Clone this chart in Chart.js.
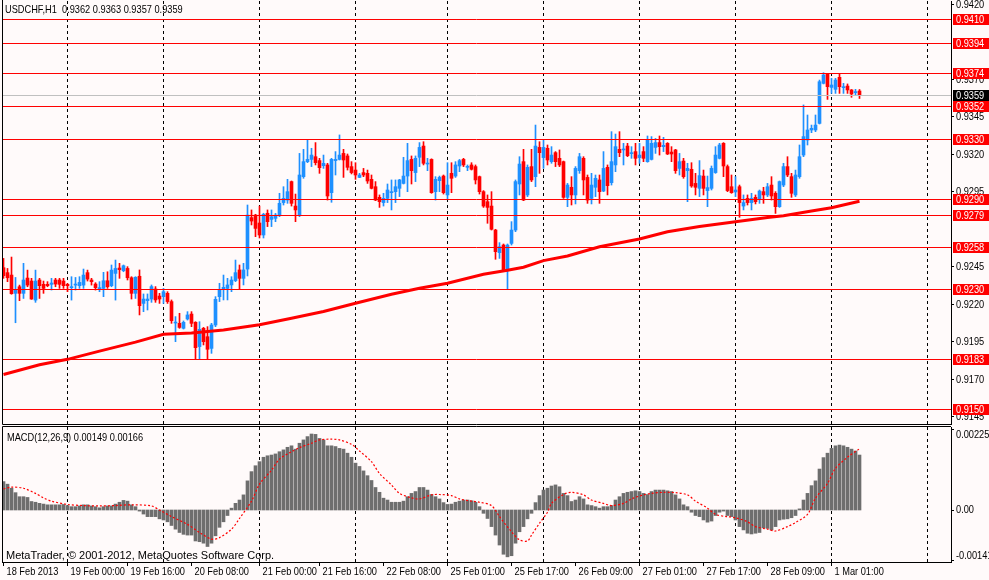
<!DOCTYPE html>
<html>
<head>
<meta charset="utf-8">
<title>USDCHF,H1</title>
<script src="https://cdn.jsdelivr.net/npm/chart.js@4.4.1/dist/chart.umd.min.js"></script>
<style>
  html, body { margin: 0; padding: 0; background: #FFFAFA; }
  #wrap { position: relative; width: 989px; height: 580px; background: #FFFAFA; overflow: hidden; }
  #priceChart { position: absolute; left: 0; top: 0; }
  #macdChart { position: absolute; left: 0; top: 425px; }
</style>
</head>
<body>
<div id="wrap">
  <canvas id="priceChart" width="989" height="425"></canvas>
  <canvas id="macdChart" width="989" height="155"></canvas>
</div>
<script>
// USDCHF H1 candles, bar 0 = 18 Feb 2013 08:00
const opens = [
  0.92442, 0.92409, 0.92393, 0.92271, 0.92315, 0.92271, 0.92373, 0.92353, 0.92226, 0.92360,
  0.92331, 0.92331, 0.92331, 0.92360, 0.92360, 0.92353, 0.92331, 0.92309, 0.92326, 0.92322,
  0.92326, 0.92409, 0.92360, 0.92333, 0.92300, 0.92304, 0.92355, 0.92322, 0.92404, 0.92440,
  0.92422, 0.92437, 0.92375, 0.92271, 0.92385, 0.92204, 0.92222, 0.92233, 0.92300, 0.92253,
  0.92249, 0.92271, 0.92216, 0.92073, 0.92071, 0.92038, 0.92100, 0.92133, 0.92078, 0.91916,
  0.92038, 0.91982, 0.91904, 0.92060, 0.92249, 0.92300, 0.92304, 0.92327, 0.92356, 0.92427,
  0.92371, 0.92433, 0.92776, 0.92793, 0.92740, 0.92660, 0.92805, 0.92764, 0.92771, 0.92793,
  0.92876, 0.92893, 0.93016, 0.92853, 0.92793, 0.93049, 0.93149, 0.93164, 0.93182, 0.93156,
  0.93122, 0.93127, 0.92942, 0.93156, 0.93164, 0.93204, 0.93187, 0.93116, 0.93093, 0.93044,
  0.93076, 0.93071, 0.93031, 0.92982, 0.92911, 0.92876, 0.92904, 0.92942, 0.92949, 0.92971,
  0.93004, 0.93053, 0.93164, 0.93076, 0.93178, 0.93253, 0.93133, 0.93164, 0.92949, 0.93022,
  0.93053, 0.92927, 0.93071, 0.93053, 0.93120, 0.93164, 0.93111, 0.93127, 0.93116, 0.93049,
  0.92949, 0.92882, 0.92853, 0.92693, 0.92542, 0.92593, 0.92431, 0.92604, 0.92693, 0.93000,
  0.93149, 0.92927, 0.93116, 0.93049, 0.93244, 0.93176, 0.93238, 0.93149, 0.93209, 0.93171,
  0.93149, 0.92911, 0.92978, 0.92927, 0.93089, 0.93171, 0.93044, 0.92904, 0.92978, 0.93027,
  0.92953, 0.93111, 0.93009, 0.93127, 0.93231, 0.93227, 0.93253, 0.93202, 0.93216, 0.93176,
  0.93216, 0.93149, 0.93164, 0.93244, 0.93276, 0.93249, 0.93271, 0.93213, 0.93227, 0.93104,
  0.93153, 0.93089, 0.93098, 0.93004, 0.92971, 0.93053, 0.92956, 0.92971, 0.93076, 0.93171,
  0.93271, 0.93116, 0.92982, 0.92947, 0.92982, 0.92853, 0.92904, 0.92876, 0.92911, 0.92898,
  0.92949, 0.92927, 0.92993, 0.92938, 0.92849, 0.92993, 0.93116, 0.93049, 0.92927, 0.93049,
  0.93193, 0.93293, 0.93360, 0.93360, 0.93404, 0.93671, 0.93733, 0.93644, 0.93631, 0.93711,
  0.93642, 0.93653, 0.93627, 0.93609, 0.93620
];
const highs = [
  0.92504, 0.92437, 0.92513, 0.92377, 0.92326, 0.92471, 0.92426, 0.92371, 0.92426, 0.92371,
  0.92353, 0.92349, 0.92371, 0.92371, 0.92371, 0.92371, 0.92337, 0.92382, 0.92377, 0.92382,
  0.92433, 0.92426, 0.92371, 0.92342, 0.92349, 0.92411, 0.92415, 0.92460, 0.92493, 0.92471,
  0.92460, 0.92449, 0.92382, 0.92382, 0.92427, 0.92267, 0.92267, 0.92327, 0.92316, 0.92271,
  0.92304, 0.92282, 0.92227, 0.92116, 0.92138, 0.92087, 0.92149, 0.92149, 0.92082, 0.92082,
  0.92044, 0.92049, 0.92071, 0.92249, 0.92338, 0.92393, 0.92371, 0.92382, 0.92493, 0.92460,
  0.92471, 0.92860, 0.92827, 0.92798, 0.92853, 0.92805, 0.92827, 0.92827, 0.92804, 0.92938,
  0.92982, 0.93031, 0.93020, 0.92933, 0.93204, 0.93231, 0.93293, 0.93238, 0.93276, 0.93171,
  0.93193, 0.93138, 0.93171, 0.93216, 0.93327, 0.93231, 0.93200, 0.93149, 0.93142, 0.93071,
  0.93104, 0.93093, 0.93060, 0.93016, 0.92927, 0.92938, 0.93000, 0.93027, 0.93027, 0.93031,
  0.93178, 0.93271, 0.93187, 0.93187, 0.93276, 0.93282, 0.93171, 0.93168, 0.93049, 0.93053,
  0.93060, 0.93142, 0.93142, 0.93149, 0.93164, 0.93171, 0.93127, 0.93142, 0.93127, 0.93053,
  0.92956, 0.92927, 0.92949, 0.92698, 0.92609, 0.92600, 0.92600, 0.92749, 0.93027, 0.93182,
  0.93231, 0.93127, 0.93231, 0.93393, 0.93282, 0.93293, 0.93260, 0.93249, 0.93216, 0.93227,
  0.93153, 0.93004, 0.93049, 0.93116, 0.93204, 0.93182, 0.93060, 0.93071, 0.93060, 0.93060,
  0.93216, 0.93127, 0.93349, 0.93333, 0.93349, 0.93271, 0.93271, 0.93249, 0.93271, 0.93271,
  0.93249, 0.93320, 0.93316, 0.93304, 0.93320, 0.93311, 0.93276, 0.93249, 0.93231, 0.93204,
  0.93171, 0.93138, 0.93142, 0.93071, 0.93156, 0.93093, 0.93053, 0.93120, 0.93249, 0.93271,
  0.93276, 0.93127, 0.93060, 0.93049, 0.92993, 0.92927, 0.92927, 0.92938, 0.92927, 0.92960,
  0.92978, 0.93004, 0.93049, 0.92949, 0.93020, 0.93138, 0.93182, 0.93071, 0.93093, 0.93260,
  0.93527, 0.93460, 0.93393, 0.93460, 0.93693, 0.93742, 0.93738, 0.93704, 0.93704, 0.93733,
  0.93671, 0.93667, 0.93630, 0.93631, 0.93630
];
const lows = [
  0.92371, 0.92349, 0.92265, 0.92075, 0.92222, 0.92237, 0.92315, 0.92231, 0.92211, 0.92237,
  0.92271, 0.92315, 0.92293, 0.92315, 0.92304, 0.92304, 0.92282, 0.92226, 0.92293, 0.92304,
  0.92304, 0.92353, 0.92326, 0.92293, 0.92282, 0.92249, 0.92304, 0.92315, 0.92226, 0.92371,
  0.92415, 0.92360, 0.92233, 0.92237, 0.92127, 0.92149, 0.92160, 0.92211, 0.92211, 0.92204,
  0.92204, 0.92204, 0.92071, 0.91949, 0.92038, 0.92033, 0.92093, 0.92049, 0.91831, 0.91831,
  0.91927, 0.91831, 0.91871, 0.92049, 0.92216, 0.92227, 0.92227, 0.92282, 0.92349, 0.92298,
  0.92327, 0.92387, 0.92727, 0.92649, 0.92640, 0.92640, 0.92716, 0.92716, 0.92749, 0.92782,
  0.92860, 0.92871, 0.92853, 0.92749, 0.92782, 0.93038, 0.93142, 0.93116, 0.93127, 0.93071,
  0.93104, 0.92893, 0.92878, 0.93060, 0.93160, 0.93044, 0.93093, 0.93067, 0.93031, 0.93042,
  0.93049, 0.93004, 0.92967, 0.92889, 0.92844, 0.92853, 0.92876, 0.92827, 0.92876, 0.92916,
  0.93000, 0.92949, 0.93000, 0.93016, 0.93116, 0.93127, 0.93089, 0.92938, 0.92893, 0.92949,
  0.92933, 0.92898, 0.92942, 0.93044, 0.93082, 0.93116, 0.93089, 0.93093, 0.93000, 0.92933,
  0.92844, 0.92738, 0.92693, 0.92498, 0.92504, 0.92422, 0.92298, 0.92593, 0.92682, 0.92927,
  0.92889, 0.92916, 0.93016, 0.92982, 0.93071, 0.93104, 0.93127, 0.93138, 0.93116, 0.93116,
  0.92904, 0.92849, 0.92860, 0.92867, 0.93071, 0.92927, 0.92871, 0.92867, 0.92916, 0.92871,
  0.92949, 0.92927, 0.92993, 0.93082, 0.93182, 0.93127, 0.93182, 0.93171, 0.93127, 0.93138,
  0.93149, 0.93145, 0.93160, 0.93204, 0.93193, 0.93216, 0.93196, 0.93149, 0.93071, 0.93060,
  0.93038, 0.92882, 0.92978, 0.92927, 0.92916, 0.92927, 0.92849, 0.92960, 0.93071, 0.93167,
  0.93049, 0.92949, 0.92938, 0.92916, 0.92778, 0.92827, 0.92860, 0.92827, 0.92867, 0.92871,
  0.92871, 0.92916, 0.92893, 0.92804, 0.92844, 0.92982, 0.93049, 0.92911, 0.92916, 0.93038,
  0.93182, 0.93260, 0.93342, 0.93349, 0.93400, 0.93667, 0.93564, 0.93604, 0.93604, 0.93604,
  0.93604, 0.93604, 0.93578, 0.93593, 0.93570
];
const closes = [
  0.92389, 0.92375, 0.92269, 0.92293, 0.92271, 0.92360, 0.92326, 0.92233, 0.92353, 0.92322,
  0.92304, 0.92322, 0.92340, 0.92333, 0.92331, 0.92322, 0.92322, 0.92315, 0.92333, 0.92344,
  0.92393, 0.92366, 0.92349, 0.92309, 0.92309, 0.92355, 0.92315, 0.92426, 0.92437, 0.92429,
  0.92455, 0.92375, 0.92271, 0.92378, 0.92189, 0.92233, 0.92233, 0.92316, 0.92227, 0.92233,
  0.92282, 0.92216, 0.92089, 0.92078, 0.92044, 0.92078, 0.92127, 0.92071, 0.91909, 0.92031,
  0.91949, 0.91898, 0.92060, 0.92231, 0.92293, 0.92311, 0.92327, 0.92360, 0.92409, 0.92371,
  0.92427, 0.92793, 0.92753, 0.92704, 0.92660, 0.92798, 0.92749, 0.92782, 0.92793, 0.92871,
  0.92904, 0.92949, 0.92871, 0.92827, 0.93060, 0.93149, 0.93164, 0.93193, 0.93142, 0.93109,
  0.93138, 0.92920, 0.93164, 0.93164, 0.93193, 0.93160, 0.93111, 0.93076, 0.93060, 0.93060,
  0.93060, 0.93020, 0.92971, 0.92893, 0.92882, 0.92904, 0.92960, 0.92949, 0.92982, 0.93027,
  0.93053, 0.93156, 0.93089, 0.93171, 0.93244, 0.93138, 0.93138, 0.92942, 0.93031, 0.93044,
  0.92942, 0.92993, 0.93038, 0.93127, 0.93156, 0.93127, 0.93116, 0.93098, 0.93027, 0.92949,
  0.92853, 0.92844, 0.92698, 0.92549, 0.92582, 0.92427, 0.92593, 0.92693, 0.93016, 0.93133,
  0.92893, 0.93111, 0.93027, 0.93253, 0.93209, 0.93244, 0.93160, 0.93193, 0.93149, 0.93127,
  0.92911, 0.92993, 0.92927, 0.93104, 0.93182, 0.93027, 0.92893, 0.92993, 0.93038, 0.92949,
  0.93104, 0.92989, 0.93149, 0.93249, 0.93209, 0.93231, 0.93189, 0.93209, 0.93171, 0.93193,
  0.93171, 0.93298, 0.93271, 0.93276, 0.93249, 0.93258, 0.93200, 0.93200, 0.93089, 0.93149,
  0.93049, 0.93104, 0.92987, 0.92978, 0.93056, 0.92971, 0.92976, 0.93104, 0.93193, 0.93260,
  0.93120, 0.92956, 0.92942, 0.92960, 0.92876, 0.92876, 0.92876, 0.92904, 0.92882, 0.92953,
  0.92927, 0.92982, 0.92920, 0.92849, 0.93016, 0.93116, 0.93060, 0.92938, 0.93060, 0.93182,
  0.93316, 0.93360, 0.93371, 0.93393, 0.93682, 0.93727, 0.93649, 0.93660, 0.93693, 0.93649,
  0.93649, 0.93627, 0.93600, 0.93616, 0.93590
];

// red moving average, read at these bars
const maBars = [0, 9, 16, 24, 33, 40, 47, 55, 64, 72, 80, 88, 97, 104, 111, 120, 126, 130, 135, 141, 149, 159, 166, 174, 183, 191, 195, 202, 207, 214];
const maValues = [0.91730, 0.91795, 0.91831, 0.91886, 0.91946, 0.91998, 0.92006, 0.92027, 0.92062, 0.92105,
  0.92150, 0.92205, 0.92265, 0.92305, 0.92338, 0.92398, 0.92425, 0.92445, 0.92489, 0.92520,
  0.92582, 0.92633, 0.92682, 0.92716, 0.92749, 0.92776, 0.92789, 0.92820, 0.92842, 0.92885];

// MACD(12,26,9) main histogram, one value per bar
const macdHist = [
  0.00077, 0.00070, 0.00059, 0.00047, 0.00036, 0.00036, 0.00034, 0.00023, 0.00021, 0.00018,
  0.00016, 0.00014, 0.00014, 0.00014, 0.00014, 0.00015, 0.00012, 0.00009, 0.00009, 0.00011,
  0.00014, 0.00014, 0.00011, 0.00009, 0.00006, 0.00009, 0.00011, 0.00011, 0.00016, 0.00021,
  0.00026, 0.00024, 0.00014, 0.00009, -0.00003, -0.00011, -0.00018, -0.00018, -0.00018, -0.00024,
  -0.00027, -0.00032, -0.00042, -0.00052, -0.00061, -0.00066, -0.00068, -0.00068, -0.00084, -0.00086,
  -0.00090, -0.00099, -0.00090, -0.00070, -0.00047, -0.00032, -0.00015, 0.00005, 0.00018, 0.00027,
  0.00041, 0.00079, 0.00104, 0.00120, 0.00131, 0.00143, 0.00147, 0.00149, 0.00152, 0.00158,
  0.00163, 0.00170, 0.00174, 0.00165, 0.00181, 0.00190, 0.00199, 0.00206, 0.00205, 0.00194,
  0.00190, 0.00174, 0.00174, 0.00172, 0.00167, 0.00165, 0.00154, 0.00143, 0.00127, 0.00118,
  0.00106, 0.00093, 0.00080, 0.00061, 0.00048, 0.00032, 0.00027, 0.00021, 0.00021, 0.00021,
  0.00024, 0.00036, 0.00045, 0.00050, 0.00061, 0.00061, 0.00054, 0.00042, 0.00036, 0.00030,
  0.00020, 0.00015, 0.00016, 0.00021, 0.00024, 0.00027, 0.00027, 0.00025, 0.00021, 0.00009,
  -0.00009, -0.00023, -0.00045, -0.00068, -0.00095, -0.00120, -0.00127, -0.00124, -0.00090, -0.00059,
  -0.00045, -0.00024, -0.00009, 0.00020, 0.00039, 0.00054, 0.00059, 0.00065, 0.00068, 0.00063,
  0.00045, 0.00039, 0.00023, 0.00027, 0.00036, 0.00030, 0.00014, 0.00012, 0.00009, 0.00005,
  0.00009, 0.00009, 0.00012, 0.00027, 0.00036, 0.00045, 0.00048, 0.00050, 0.00052, 0.00050,
  0.00045, 0.00042, 0.00050, 0.00054, 0.00054, 0.00054, 0.00052, 0.00050, 0.00041, 0.00030,
  0.00014, 0.00009, -0.00006, -0.00015, -0.00018, -0.00027, -0.00033, -0.00030, -0.00015, -0.00006,
  -0.00003, -0.00015, -0.00018, -0.00027, -0.00045, -0.00054, -0.00063, -0.00065, -0.00063, -0.00061,
  -0.00048, -0.00050, -0.00054, -0.00045, -0.00027, -0.00025, -0.00024, -0.00021, -0.00015, 0.00003,
  0.00027, 0.00045, 0.00066, 0.00079, 0.00111, 0.00142, 0.00154, 0.00167, 0.00174, 0.00176,
  0.00174, 0.00170, 0.00165, 0.00160, 0.00149
];

// MACD signal line, read at these bars
const signalBars = [0, 2, 5, 8, 10, 12, 16, 20, 24, 28, 32, 37, 39, 42, 46, 49, 52, 54, 57, 59,
  62, 64, 67, 69, 72, 74, 77, 79, 82, 84, 87, 89, 92, 94, 97, 99, 102, 104, 107, 109,
  112, 114, 117, 119, 122, 124, 127, 129, 131, 132, 134, 136, 137, 140, 142, 145, 147, 150, 152, 155,
  157, 160, 162, 165, 168, 171, 173, 176, 178, 181, 183, 186, 188, 191, 193, 196, 198, 201, 203, 206,
  208, 211, 214];
const signalValues = [0.00057, 0.00062, 0.00059, 0.00045, 0.00033, 0.00024, 0.00015, 0.00012, 0.00011, 0.00012,
  0.00014, 0.00011, 0.00000, -0.00018, -0.00039, -0.00061, -0.00079, -0.00075, -0.00052, -0.00023,
  0.00024, 0.00070, 0.00108, 0.00138, 0.00158, 0.00169, 0.00181, 0.00190, 0.00192, 0.00190,
  0.00178, 0.00160, 0.00131, 0.00099, 0.00068, 0.00045, 0.00033, 0.00030, 0.00041, 0.00042,
  0.00039, 0.00030, 0.00024, 0.00021, 0.00012, -0.00018, -0.00059, -0.00081, -0.00084, -0.00068,
  -0.00036, -0.00006, 0.00018, 0.00042, 0.00048, 0.00041, 0.00027, 0.00018, 0.00012, 0.00018,
  0.00030, 0.00041, 0.00045, 0.00048, 0.00047, 0.00041, 0.00024, 0.00005, -0.00012, -0.00018,
  -0.00021, -0.00032, -0.00045, -0.00052, -0.00057, -0.00045, -0.00034, -0.00012, 0.00032, 0.00072,
  0.00113, 0.00143, 0.00166];

// horizontal line objects and the current bid
const levelLines = [0.9410, 0.9394, 0.9374, 0.9352, 0.9330, 0.9290, 0.9279, 0.9258, 0.9230, 0.9183, 0.9150];
const lastPrice = 0.9359;

// axis labels
const priceTicks = [0.9420, 0.9370, 0.9345, 0.9320, 0.9295, 0.9245, 0.9220, 0.9195, 0.9170, 0.9145];
const timeTickBars = [0, 16, 31, 47, 64, 79, 95, 111, 127, 143, 159, 175, 191, 207];
const timeTickLabels = ['18 Feb 2013', '19 Feb 00:00', '19 Feb 16:00', '20 Feb 08:00', '21 Feb 00:00',
  '21 Feb 16:00', '22 Feb 08:00', '25 Feb 01:00', '25 Feb 17:00', '26 Feb 09:00', '27 Feb 01:00',
  '27 Feb 17:00', '28 Feb 09:00', '1 Mar 01:00'];
const daySeparatorBars = [16, 40, 64, 88, 111, 135, 159, 183, 207, 231];
const macdTickValues = [0.00225, 0, -0.00141];
const macdTickLabels = ['0.00225', '0.00', '-0.00141'];

const titleText = 'USDCHF,H1  0.9362 0.9363 0.9357 0.9359';
const macdText = 'MACD(12,26,9) 0.00149 0.00166';
const copyText = 'MetaTrader, \u00A9 2001-2012, MetaQuotes Software Corp.';

const FAMILY = "'Liberation Sans', Arial, sans-serif";
const FONT = "11px " + FAMILY;
const NARROW = 0.84;   // terminal font is narrower than Liberation Sans
const UP = '#1E90FF', DOWN = '#FF0000';

Chart.defaults.color = '#000';
Chart.defaults.font.family = FAMILY;
Chart.defaults.font.size = 11;

const idx = closes.map((c, i) => i);
const candleColors = closes.map((c, i) => (c >= opens[i] ? UP : DOWN));

// shared x range: 4 px per bar, empty space on the right
const X_MIN = -0.375, X_MAX = 236.875;

function narrowText(ctx, text, x, y) {
  ctx.save();
  ctx.translate(x, y);
  ctx.scale(NARROW, 1);
  ctx.fillText(text, 0, 0);
  ctx.restore();
}

function drawSeparators(chart) {
  const { ctx, chartArea: a, scales: { x } } = chart;
  ctx.save();
  ctx.strokeStyle = '#000';
  ctx.lineWidth = 1;
  ctx.setLineDash([3, 3]);
  daySeparatorBars.forEach(b => {
    const px = Math.floor(x.getPixelForValue(b)) + 0.5;
    ctx.beginPath();
    ctx.moveTo(px, a.top);
    ctx.lineTo(px, a.bottom);
    ctx.stroke();
  });
  ctx.restore();
}

function tickMark(ctx, a, py) {
  const t = Math.round(py) + 0.5;
  ctx.beginPath(); ctx.moveTo(a.right, t); ctx.lineTo(a.right + 3, t); ctx.stroke();
}

const pricePlugin = {
  id: 'pricePanel',
  beforeDatasetsDraw(chart) { drawSeparators(chart); },
  afterDatasetsDraw(chart) {
    const { ctx, chartArea: a, scales: { y } } = chart;
    ctx.save();
    ctx.lineWidth = 1;
    ctx.beginPath(); ctx.rect(a.left, a.top, a.right - a.left, a.bottom - a.top); ctx.clip();
    const yl = Math.round(y.getPixelForValue(lastPrice)) + 0.5;
    ctx.strokeStyle = '#C0C0C0';
    ctx.beginPath(); ctx.moveTo(a.left, yl); ctx.lineTo(a.right, yl); ctx.stroke();
    ctx.strokeStyle = '#FF0000';
    levelLines.forEach(v => {
      const py = Math.round(y.getPixelForValue(v)) + 0.5;
      ctx.beginPath(); ctx.moveTo(a.left, py); ctx.lineTo(a.right, py); ctx.stroke();
    });
    ctx.restore();
  },
  afterDraw(chart) {
    const { ctx, chartArea: a, scales: { y } } = chart;
    ctx.save();
    ctx.strokeStyle = '#000';
    ctx.lineWidth = 1;
    ctx.beginPath();
    ctx.moveTo(a.left + 0.5, 0);
    ctx.lineTo(a.left + 0.5, a.bottom - 0.5);
    ctx.lineTo(a.right, a.bottom - 0.5);
    ctx.stroke();
    ctx.font = FONT;
    ctx.textAlign = 'left';
    ctx.textBaseline = 'middle';
    ctx.fillStyle = '#000';
    priceTicks.forEach(v => {
      const py = y.getPixelForValue(v);
      tickMark(ctx, a, py);
      narrowText(ctx, v.toFixed(4), a.right + 5, Math.round(py) + 0.5);
    });
    const box = (v, bg) => {
      const py = Math.round(y.getPixelForValue(v));
      ctx.fillStyle = bg;
      ctx.fillRect(a.right + 2, py - 5, 36, 11);
      ctx.fillStyle = '#FFFFFF';
      narrowText(ctx, v.toFixed(4), a.right + 5, py + 0.5);
    };
    levelLines.forEach(v => box(v, '#FF0000'));
    box(lastPrice, '#000000');
    ctx.fillStyle = '#000';
    narrowText(ctx, titleText, a.left + 3, 10);
    ctx.restore();
  }
};

new Chart(document.getElementById('priceChart'), {
  type: 'bar',
  data: {
    datasets: [
      {
        type: 'line', data: maBars.map((b, i) => ({ x: b, y: maValues[i] })),
        borderColor: '#FF0000', borderWidth: 3, pointRadius: 0, tension: 0, order: 0
      },
      {
        data: idx.map(i => ({ x: i, y: [opens[i], closes[i]] })),
        backgroundColor: candleColors, barThickness: 3, minBarLength: 1, grouped: false, order: 1
      },
      {
        data: idx.map(i => ({ x: i, y: [lows[i], highs[i]] })),
        backgroundColor: candleColors, barThickness: 1, minBarLength: 1, grouped: false, order: 2
      }
    ]
  },
  options: {
    responsive: false, animation: false, events: [],
    layout: { padding: { left: 2, top: 1, right: 0, bottom: 0 } },
    plugins: { legend: { display: false }, tooltip: { enabled: false } },
    scales: {
      x: { type: 'linear', min: X_MIN, max: X_MAX, offset: false, display: false, grid: { display: false } },
      y: {
        position: 'right', min: 0.913933, max: 0.942200, bounds: 'data',
        afterBuildTicks: s => { s.ticks = priceTicks.map(v => ({ value: v })); },
        afterFit: s => { s.width = 38; s.paddingTop = 0; s.paddingBottom = 0; },
        ticks: { display: false },
        grid: { display: false },
        border: { display: true, color: '#000' }
      }
    }
  },
  plugins: [pricePlugin]
});

const macdPlugin = {
  id: 'macdPanel',
  beforeDatasetsDraw(chart) { drawSeparators(chart); },
  afterDraw(chart) {
    const { ctx, chartArea: a, scales: { x, y } } = chart;
    ctx.save();
    ctx.strokeStyle = '#000';
    ctx.lineWidth = 1;
    ctx.beginPath();
    ctx.moveTo(a.left + 0.5, a.bottom);
    ctx.lineTo(a.left + 0.5, a.top - 0.5);
    ctx.lineTo(a.right, a.top - 0.5);
    ctx.stroke();
    ctx.font = FONT;
    ctx.textAlign = 'left';
    ctx.textBaseline = 'middle';
    ctx.fillStyle = '#000';
    macdTickValues.forEach((v, i) => {
      const py = y.getPixelForValue(v);
      tickMark(ctx, a, Math.min(Math.max(py, a.top + 2), a.bottom - 2));
      const ty = Math.min(Math.max(py, a.top + 8), a.bottom - 6);
      narrowText(ctx, macdTickLabels[i], a.right + 5, ty);
    });
    // time axis
    timeTickBars.forEach((b, i) => {
      const px = Math.floor(x.getPixelForValue(b)) + 0.5;
      ctx.beginPath(); ctx.moveTo(px, a.bottom); ctx.lineTo(px, a.bottom + 4); ctx.stroke();
      narrowText(ctx, timeTickLabels[i], px + 3, a.bottom + 10);
    });
    narrowText(ctx, macdText, a.left + 5, a.top + 11);
    ctx.font = "11px 'Liberation Sans', Arial, sans-serif";
    ctx.textBaseline = 'alphabetic';
    ctx.fillText(copyText, a.left + 4, a.bottom - 3);
    ctx.restore();
  }
};

new Chart(document.getElementById('macdChart'), {
  type: 'bar',
  data: {
    datasets: [
      {
        type: 'line', data: signalBars.map((b, i) => ({ x: b, y: signalValues[i] })),
        borderColor: '#FF0000', borderWidth: 1.2, borderDash: [2, 2], pointRadius: 0, tension: 0.3, order: 0
      },
      {
        data: idx.map(i => ({ x: i, y: macdHist[i] })),
        backgroundColor: '#6E6E6E', barThickness: 3, grouped: false, order: 1
      }
    ]
  },
  options: {
    responsive: false, animation: false, events: [],
    layout: { padding: { left: 2, top: 2, right: 0, bottom: 0 } },
    plugins: { legend: { display: false }, tooltip: { enabled: false } },
    scales: {
      x: {
        type: 'linear', min: X_MIN, max: X_MAX, offset: false, position: 'bottom',
        afterFit: s => { s.height = 18; s.paddingLeft = 0; s.paddingRight = 0; },
        ticks: { display: false },
        grid: { display: false },
        border: { display: true, color: '#000' }
      },
      y: {
        position: 'right', min: -0.00141, max: 0.00225, bounds: 'data',
        afterFit: s => { s.width = 38; s.paddingTop = 0; s.paddingBottom = 0; },
        ticks: { display: false },
        grid: { display: false },
        border: { display: true, color: '#000' }
      }
    }
  },
  plugins: [macdPlugin]
});
</script>
</body>
</html>
